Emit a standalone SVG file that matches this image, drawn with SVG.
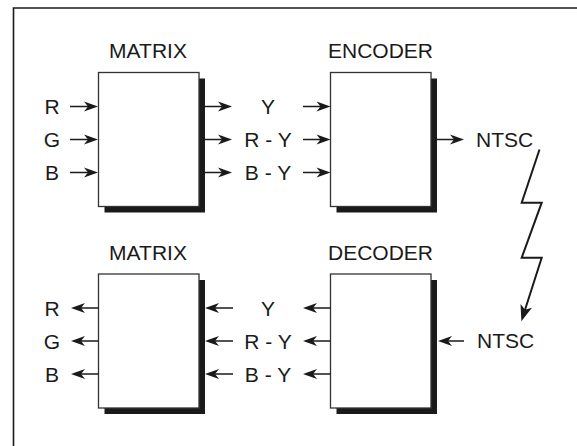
<svg xmlns="http://www.w3.org/2000/svg" width="577" height="446" viewBox="0 0 577 446">
<style>
text{font-family:"Liberation Sans",Arial,sans-serif;font-size:21px;fill:#1a1a1a}
.c{text-anchor:middle}
.box{fill:#fff;stroke:#333;stroke-width:1.3}
.sh{fill:#1a1a1a}
.a{stroke:#1a1a1a;stroke-width:1.5;fill:none;marker-end:url(#ah)}
.z{stroke:#1a1a1a;stroke-width:2;fill:none;stroke-linejoin:miter;marker-end:url(#ah2)}
</style>
<defs>
<marker id="ah" markerUnits="userSpaceOnUse" markerWidth="16" markerHeight="12" refX="8" refY="5" orient="auto" overflow="visible">
<path d="M0,0 L14,5 L0,10 L4,5 z" fill="#1a1a1a"/>
</marker>
<marker id="ah2" markerUnits="userSpaceOnUse" markerWidth="18" markerHeight="14" refX="9" refY="6" orient="auto" overflow="visible">
<path d="M0,0 L16,6 L0,12 L4,6 z" fill="#1a1a1a"/>
</marker>
</defs>
<path d="M13.5,446 V8 H577" fill="none" stroke="#1a1a1a" stroke-width="1.6"/>

<g id="matrix1">
<rect class="sh" x="104.5" y="78.5" width="100.5" height="134"/>
<rect class="box" x="98.5" y="72.5" width="100.5" height="134"/>
<text class="c" x="148" y="58">MATRIX</text>
</g>
<g id="encoder">
<rect class="sh" x="336.5" y="78.5" width="100.5" height="134"/>
<rect class="box" x="330.5" y="72.5" width="100.5" height="134"/>
<text class="c" x="380.5" y="58">ENCODER</text>
</g>
<g id="matrix2">
<rect class="sh" x="104.5" y="280" width="100.5" height="134"/>
<rect class="box" x="98.5" y="274" width="100.5" height="134"/>
<text class="c" x="148" y="259.5">MATRIX</text>
</g>
<g id="decoder">
<rect class="sh" x="336.5" y="280" width="100.5" height="134"/>
<rect class="box" x="330.5" y="274" width="100.5" height="134"/>
<text class="c" x="380.5" y="259.5">DECODER</text>
</g>

<g id="labels">
<text class="c" x="52" y="114">R</text>
<text class="c" x="52" y="147">G</text>
<text class="c" x="52" y="180">B</text>
<text class="c" x="268" y="114">Y</text>
<text class="c" x="268" y="147">R - Y</text>
<text class="c" x="268" y="180">B - Y</text>
<text x="476" y="146.5">NTSC</text>
<text class="c" x="52" y="315.5">R</text>
<text class="c" x="52" y="348.5">G</text>
<text class="c" x="52" y="381.5">B</text>
<text class="c" x="268" y="315.5">Y</text>
<text class="c" x="268" y="348.5">R - Y</text>
<text class="c" x="268" y="381.5">B - Y</text>
<text x="477" y="348">NTSC</text>
</g>

<g id="connectors">
<line class="a" x1="70" y1="106.5" x2="92" y2="106.5"/>
<line class="a" x1="70" y1="139.5" x2="92" y2="139.5"/>
<line class="a" x1="70" y1="172.5" x2="92" y2="172.5"/>
<line class="a" x1="205" y1="106.5" x2="226" y2="106.5"/>
<line class="a" x1="205" y1="139.5" x2="226" y2="139.5"/>
<line class="a" x1="205" y1="172.5" x2="226" y2="172.5"/>
<line class="a" x1="303" y1="106.5" x2="324.5" y2="106.5"/>
<line class="a" x1="303" y1="139.5" x2="324.5" y2="139.5"/>
<line class="a" x1="303" y1="172.5" x2="324.5" y2="172.5"/>
<line class="a" x1="437" y1="139.5" x2="458" y2="139.5"/>

<line class="a" x1="98.5" y1="308" x2="77" y2="308"/>
<line class="a" x1="98.5" y1="341" x2="77" y2="341"/>
<line class="a" x1="98.5" y1="374" x2="77" y2="374"/>
<line class="a" x1="233" y1="308" x2="211" y2="308"/>
<line class="a" x1="233" y1="341" x2="211" y2="341"/>
<line class="a" x1="233" y1="374" x2="211" y2="374"/>
<line class="a" x1="330.5" y1="308" x2="309" y2="308"/>
<line class="a" x1="330.5" y1="341" x2="309" y2="341"/>
<line class="a" x1="330.5" y1="374" x2="309" y2="374"/>
<line class="a" x1="464" y1="341" x2="444" y2="341"/>

<polyline class="z" points="539.5,149.5 521.7,202.7 541.7,202.7 521.7,257.7 541.7,257.7 523.5,314.5"/>
</g>
</svg>
